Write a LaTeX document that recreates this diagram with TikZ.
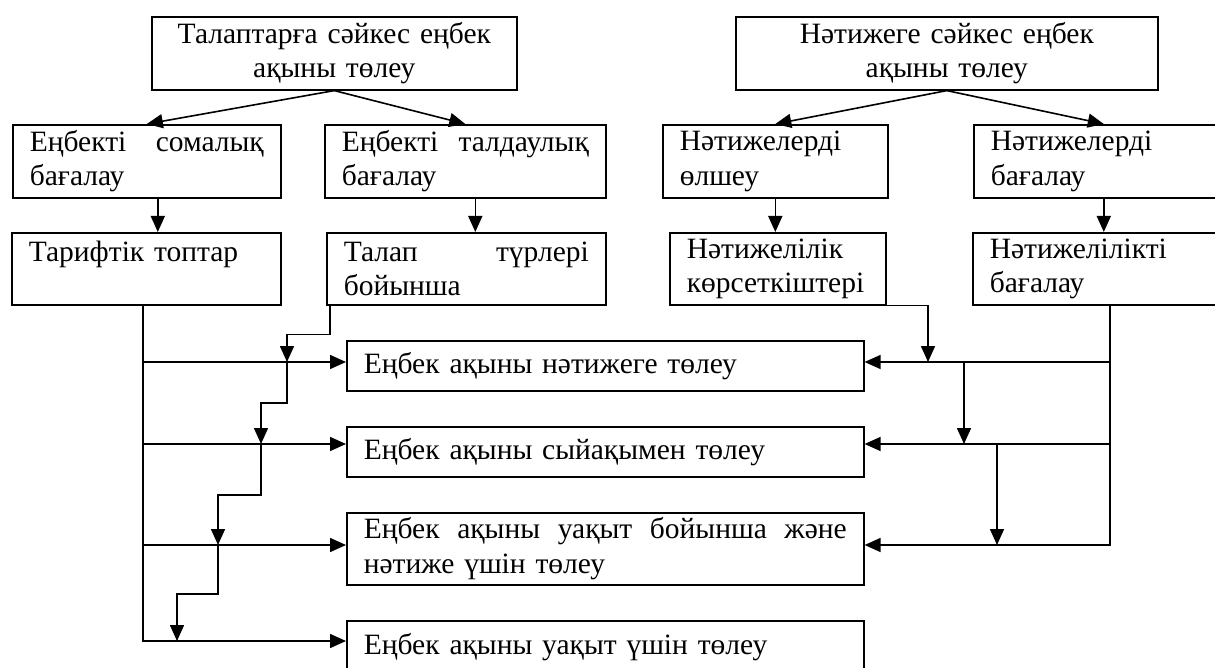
\documentclass[tikz,border=0pt]{standalone}
\usepackage{fontspec}
\setmainfont{Liberation Serif}
\usetikzlibrary{arrows.meta,positioning}

\begin{document}
\begin{tikzpicture}[x=1pt, y=-1pt,
        box/.style={draw, rectangle, line width=1.6pt, anchor=north west, inner xsep=17pt, inner ysep=2pt, align=left, font=\fontsize{29.5}{34.5}\selectfont},
        arrow/.style={-{Triangle[length=16pt, width=14pt]}, line width=1.6pt}
    ]
        \useasboundingbox (0,0) rectangle (1215,668);
        % Top boxes
        \node[box, align=center, minimum height=73pt, text width=331pt] (req) at (151,16) {Талаптарға сәйкес еңбек\\ақыны төлеу};
        \node[box, align=center, minimum height=73pt, text width=388pt] (res) at (735,16) {Нәтижеге сәйкес еңбек\\ақыны төлеу};

        % Second row
        \node[box, minimum height=73pt, text width=234pt] (gross) at (12,124) {Еңбекті\hfill сомалық\\бағалау};
        \node[box, minimum height=73pt, text width=247pt] (anal) at (324,124) {Еңбекті\hfill талдаулық\\бағалау};
        \node[box, minimum height=73pt, text width=191pt] (measure) at (662,124) {Нәтижелерді\\өлшеу};
        \node[box, minimum height=73pt, text width=226pt] (assess) at (973,124) {Нәтижелерді\\бағалау};

        % Third row
        \node[box, minimum height=72pt, text width=235pt] (tariff) at (11,232) {Тарифтік топтар\\~};
        \node[box, minimum height=72pt, text width=245pt] (kinds) at (326,232) {Талап\hfill түрлері\\бойынша};
        \node[box, minimum height=72pt, text width=182pt] (indic) at (669,232) {Нәтижелілік\\көрсеткіштері};
        \node[box, minimum height=72pt, text width=226pt] (effect) at (972,232) {Нәтижелілікті\\бағалау};

        % Pay forms
        \node[box, minimum height=50pt, text width=483pt] (result) at (346,340) {Еңбек ақыны нәтижеге төлеу};
        \node[box, minimum height=50pt, text width=483pt] (bonus) at (346,426) {Еңбек ақыны сыйақымен төлеу};
        \node[box, minimum height=72pt, text width=483pt] (mixed) at (346,512) {Еңбек\hfill ақыны\hfill уақыт\hfill бойынша\hfill және\\нәтиже үшін төлеу};
        \node[box, minimum height=52pt, text width=483pt] (time) at (346,620) {Еңбек ақыны уақыт үшін төлеу};

        % Rows and columns of the connectors
        \coordinate (r1) at (0,362);
        \coordinate (r2) at (0,444);
        \coordinate (r3) at (0,545);
        \coordinate (r4) at (0,641);
        \coordinate (colL) at (143,0);
        \coordinate (colR) at (1110,0);
        \coordinate (st1) at (287,362);
        \coordinate (st2) at (261,444);
        \coordinate (st3) at (218,545);
        \coordinate (st4) at (177,641);
        \coordinate (cj) at (928,362);
        \coordinate (v1) at (964,0);
        \coordinate (v2) at (997,0);

        % Arrows
        \draw[arrow] (req.south) -- (gross.north);
        \draw[arrow] (req.south) -- (anal.north);
        \draw[arrow] (res.south) -- (measure.north);
        \draw[arrow] (res.south) -- (assess.north);

        \draw[arrow] ([xshift=11pt]gross.south) -- ([xshift=11pt]gross.south |- tariff.north);
        \draw[arrow] ([xshift=10pt]anal.south) -- ([xshift=10pt]anal.south |- kinds.north);
        \draw[arrow] (measure.south) -- (measure.south |- indic.north);
        \draw[arrow] (assess.south) -- (assess.south |- effect.north);

        % Left side
        \draw[arrow] (colL |- tariff.south) |- (time.west |- r4);
        \draw[arrow] (colL |- r1) -- (result.west |- r1);
        \draw[arrow] (colL |- r2) -- (bonus.west |- r2);
        \draw[arrow] (colL |- r3) -- (mixed.west |- r3);

        \draw[arrow] ([xshift=4pt]kinds.south west) -- ++(0,29) -| (st1);
        \draw[arrow] (st1) -- ++(0,41) -| (st2);
        \draw[arrow] (st2) -- ++(0,51) -| (st3);
        \draw[arrow] (st3) -- ++(0,49) -| (st4);

        % Right side
        \draw[arrow] (colR |- effect.south) |- (mixed.east |- r3);
        \draw[arrow] (colR |- r1) -- (result.east |- r1);
        \draw[arrow] (colR |- r2) -- (bonus.east |- r2);
        \draw[arrow] (indic.south east) -| (cj);
        \draw[arrow] (v1 |- r1) -- (v1 |- r2);
        \draw[arrow] (v2 |- r2) -- (v2 |- r3);
    \end{tikzpicture}
\end{document}
